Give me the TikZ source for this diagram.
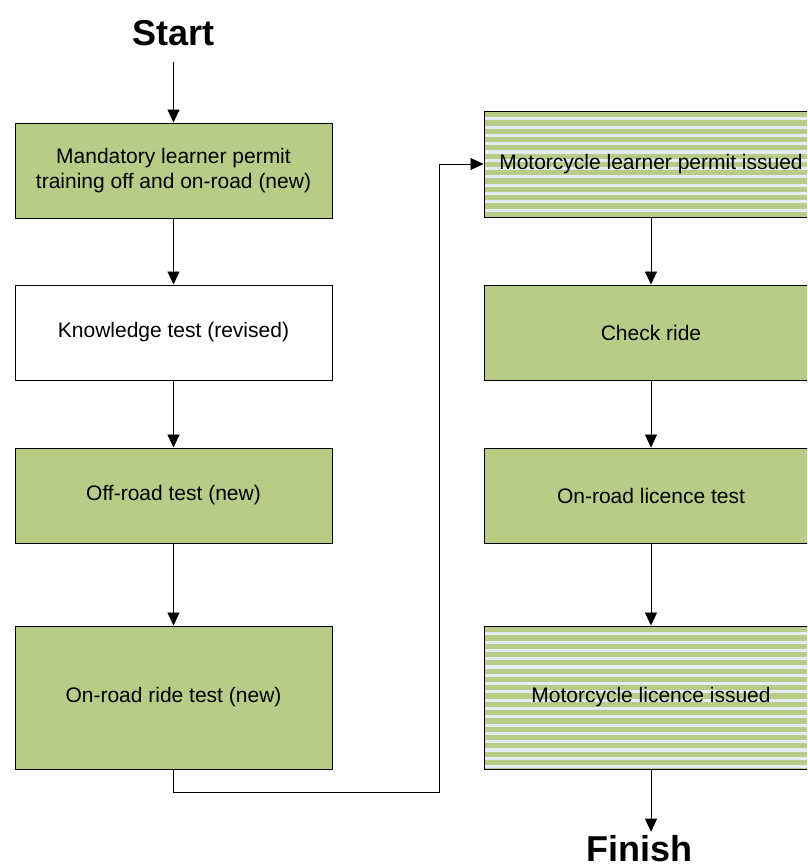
\documentclass[tikz,border=0pt]{standalone}
\usepackage{fontspec}
\setmainfont{Liberation Sans}
\usetikzlibrary{arrows.meta}
\definecolor{boxgreen}{RGB}{184,204,136}
\definecolor{stripeblue}{RGB}{228,235,245}

\begin{document}
\begin{tikzpicture}[x=1pt, y=-1pt,
    every node/.style={font=\fontsize{21}{24.5}\selectfont, align=center, inner sep=0pt},
    stage/.style={draw=black, line width=1pt, fill=boxgreen, minimum width=317pt, minimum height=95pt},
    plainstage/.style={stage, fill=white},
    issued/.style={draw=black, line width=1pt, fill=stripeblue, minimum width=334pt,
      path picture={\foreach \k in {0,...,17}{
        \fill[boxgreen] ([yshift={-\k*8.3pt-1pt}]path picture bounding box.north west) rectangle ++(340,5.2);}}},
    flow/.style={draw=black, line width=0.8pt, -{Triangle[length=13pt,width=12pt]}},
    heading/.style={font=\bfseries\fontsize{36}{40}\selectfont, align=none, text depth=0pt}]
    \useasboundingbox (0,0) rectangle (807,865);
    \clip (0,0) rectangle (807,865);
    % left column: training and tests
    \node[heading, anchor=base] (start) at (173.5,45) {Start};
    \node[stage] (training) at (173.5,170.5) {Mandatory learner permit\\training off and on-road (new)};
    \node[plainstage] (knowledge) at (173.5,332.5) {Knowledge test (revised)};
    \node[stage] (offroad) at (173.5,495.5) {Off-road test (new)};
    \node[stage, minimum height=143pt] (ride) at (173.5,697.5) {On-road ride test (new)};
    % right column: permit and licence
    \node[issued, minimum height=106pt] (permit) at (651,164) {Motorcycle learner permit issued};
    \node[stage, minimum width=334pt] (check) at (651,332.5) {Check ride};
    \node[stage, minimum width=334pt] (onroad) at (651,495.5) {On-road licence test};
    \node[issued, minimum height=143pt] (licence) at (651,697.5) {Motorcycle licence issued};
    \node[heading, anchor=base] (finish) at (639,861) {Finish};
    \coordinate (bend) at (439,792);
    \draw[flow, shorten <=17pt] (start.south) -- (training.north);
    \draw[flow] (training) -- (knowledge);
    \draw[flow] (knowledge) -- (offroad);
    \draw[flow] (offroad) -- (ride);
    \draw[flow] (ride.south) |- (bend) |- (permit.west);
    \draw[flow] (permit) -- (check);
    \draw[flow] (check) -- (onroad);
    \draw[flow] (onroad) -- (licence);
    \draw[flow, shorten >=3pt] (licence.south) -- (licence.south |- finish.north);
\end{tikzpicture}
\end{document}
